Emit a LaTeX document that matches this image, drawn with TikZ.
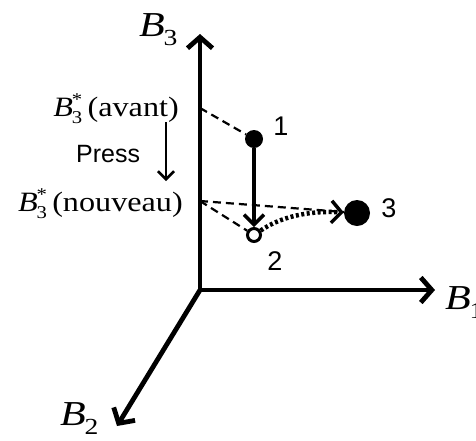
\documentclass[tikz,border=0pt]{standalone}
\usepackage{fontspec}
\setmainfont{Liberation Serif}
\newfontfamily\sansf{Liberation Sans}
\usetikzlibrary{arrows.meta}
\newcommand{\Bax}[1]{\scalebox{1.2}[1]{{\fontsize{35}{35}\selectfont\itshape B}\kern-1pt\raisebox{-9pt}{\fontsize{23}{23}\selectfont #1}}}
\newcommand{\Bst}{{\itshape B}\kern-1pt\makebox[0pt][l]{\raisebox{11pt}{\fontsize{18}{18}\selectfont *}}\raisebox{-7pt}{\fontsize{18}{18}\selectfont 3}}
\newcommand{\wide}[1]{\scalebox{1.15}[1]{#1}}
\begin{document}
\begin{tikzpicture}[x=1pt,y=-1pt,
  axis/.style={line width=4.8pt,-{Straight Barb[length=11pt,width=25pt]}},
  dot/.style={circle,fill=black,inner sep=0pt},
  dashl/.style={line width=2.2pt,dash pattern=on 8pt off 5pt},
  dotl/.style={line width=4.5pt,dash pattern=on 3pt off 2.5pt,-{Straight Barb[length=10pt,width=22pt,line width=3.5pt]}},
  axlab/.style={inner sep=0pt,anchor=base west},
  blab/.style={inner sep=0pt,anchor=base east,font=\fontsize{28}{28}\selectfont},
  num/.style={inner sep=0pt,font=\sansf\fontsize{27}{27}\selectfont}]
\useasboundingbox (0,0) rectangle (476,440);
\coordinate (O) at (200,290);
\coordinate (X1) at (435,290);
\coordinate (X2) at (117,426);
\coordinate (X3) at (200,34);
\coordinate (tA) at (200,108);
\coordinate (tN) at (200,201);
\draw[axis] (O) -- (X3);
\draw[axis] (O) -- (X1);
\draw[axis] (O) -- (X2);
\node[axlab] (lb3) at (139,36) {\Bax{3}};
\node[axlab] (lb1) at (445,309) {\Bax{1}};
\node[axlab] (lb2) at (60,425) {\Bax{2}};
\node[blab] (avant) at (179,116) {\wide{\Bst\,(avant)}};
\node[blab] (nouv) at (183,211) {\wide{\Bst\,(nouveau)}};
\node[inner sep=0pt,anchor=base west,font=\sansf\fontsize{25}{25}\selectfont] (press) at (76,162) {Press};
\coordinate (pa) at (166,122);
\coordinate (pb) at (166,181);
\draw[line width=2.5pt,-{Straight Barb[length=8pt,width=16pt]}] (pa) -- (pb);
\node[dot,minimum size=18pt] (p1) at (254,139) {};
\node[circle,draw=black,fill=white,line width=3pt,inner sep=0pt,minimum size=13pt] (p2) at (254,235) {};
\node[dot,minimum size=26pt] (p3) at (357,213) {};
\draw[dashl] (tA) -- (p1);
\draw[dashl] (tN) -- (p2);
\draw[dashl] (tN) -- (p3);
\draw[line width=3.5pt,-{Straight Barb[length=10pt,width=20pt]}] (p1) -- (p2);
\draw[dotl] (p2) .. controls (285,214) and (315,211) .. (p3);
\node[num] (n1) at (281,126) {1};
\node[num] (n2) at (275,261) {2};
\node[num] (n3) at (389,208) {3};
\end{tikzpicture}
\end{document}
